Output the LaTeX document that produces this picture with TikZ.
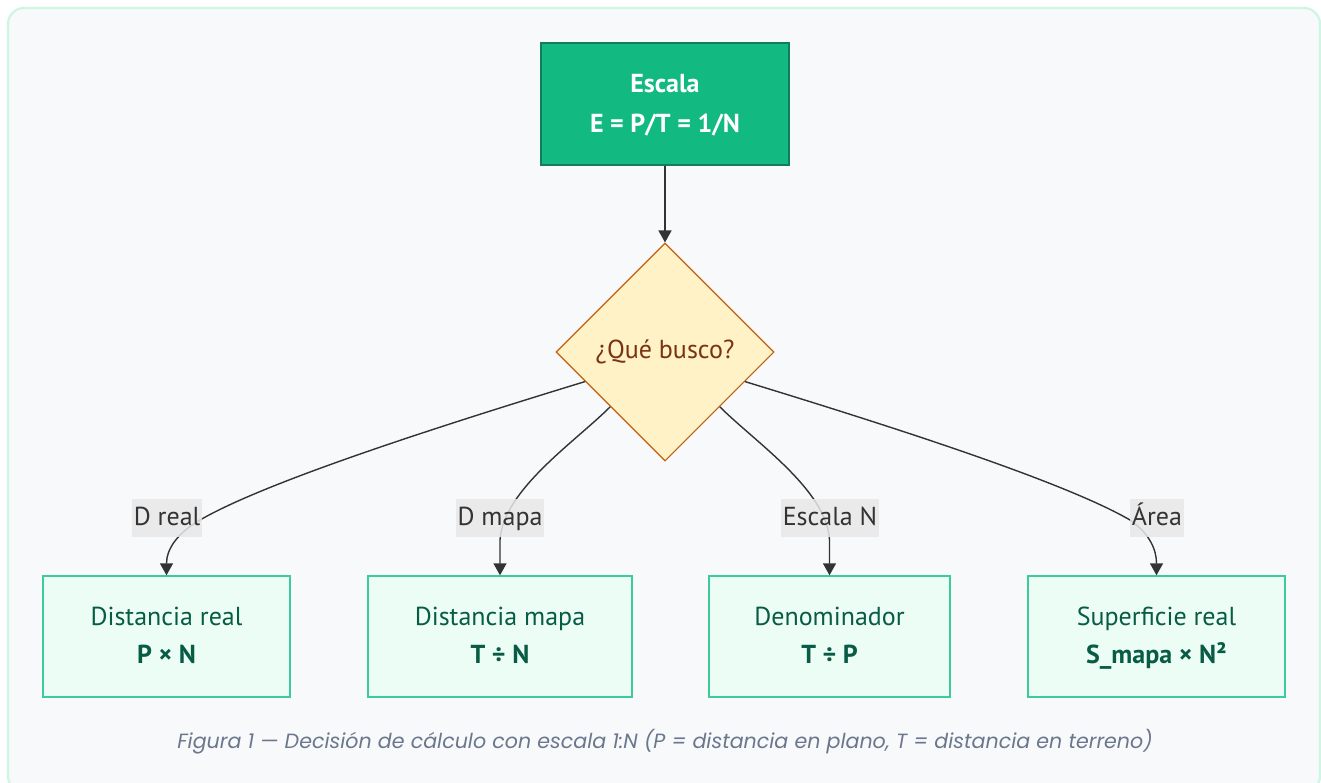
\documentclass[tikz,border=0pt]{standalone}
\usepackage{fontspec}
\setmainfont{PT Sans}
\newfontfamily\captionfont{Poppins}
\usetikzlibrary{shapes.geometric,arrows.meta,calc}

\definecolor{pagebg}{HTML}{F8F9FB}
\definecolor{framec}{HTML}{CDF7E2}
\definecolor{topfill}{HTML}{12B981}
\definecolor{topdraw}{HTML}{0E7E5C}
\definecolor{leaffill}{HTML}{ECFDF5}
\definecolor{leafdraw}{HTML}{3CCB9A}
\definecolor{leaftext}{HTML}{085C45}
\definecolor{qfill}{HTML}{FEF2C6}
\definecolor{qdraw}{HTML}{C0600E}
\definecolor{qtext}{HTML}{7A3312}
\definecolor{edgec}{HTML}{333333}
\definecolor{lblfill}{HTML}{E8E8E8}
\definecolor{capc}{HTML}{6B778C}

% fixed line strut so every box centres its two lines the same way
\newcommand{\ls}{\rule[-8pt]{0pt}{32pt}}

\tikzset{
  rootbox/.style={draw=topdraw, fill=topfill, line width=1.2pt, text=white,
    minimum width=248pt, minimum height=122pt, inner sep=0pt, align=center,
    font=\fontsize{26}{40}\selectfont\bfseries},
  leafbox/.style={draw=leafdraw, fill=leaffill, line width=1.4pt, text=leaftext,
    minimum height=121pt, inner sep=0pt, align=center,
    font=\fontsize{26}{38}\selectfont},
  askbox/.style={diamond, draw=qdraw, fill=qfill, line width=1.1pt, text=qtext,
    minimum width=218pt, minimum height=218pt, inner sep=0pt,
    font=\fontsize{26}{30}\selectfont},
  edgelbl/.style={fill=lblfill, fill opacity=0.85, text opacity=1, text=edgec,
    inner xsep=2pt, inner ysep=6pt, text height=20pt, text depth=6pt,
    font=\fontsize{26}{30}\selectfont},
  link/.style={draw=edgec, line width=1.4pt,
    -{Triangle[length=12pt,width=13pt]}},
}

\begin{document}
\begin{tikzpicture}[x=1pt,y=-1pt]
  \useasboundingbox (0,0) rectangle (1321,782);
  % page and frame
  \fill[white] (0,0) rectangle (1321,782);
  \draw[framec, line width=2.2pt, fill=pagebg, rounded corners=16pt]
    (8,8) rectangle (1320,792);

  % nodes
  \node[rootbox] (root) at (665,104) {Escala\ls\\E = P/T = 1/N\ls};
  \node[askbox] (ask) at (665,352) {¿Qué busco?};

  \node[leafbox, minimum width=247pt] (real) at (166.5,636.5)
    {Distancia real\ls\\\textbf{P × N}\ls};
  \node[leafbox, minimum width=264pt] (mapa) at (500,636.5)
    {Distancia mapa\ls\\\textbf{T ÷ N}\ls};
  \node[leafbox, minimum width=241pt] (deno) at (829.5,636.5)
    {Denominador\ls\\\textbf{T ÷ P}\ls};
  \node[leafbox, minimum width=257pt] (area) at (1156.5,636.5)
    {Superficie real\ls\\\textbf{S\_mapa × N²}\ls};

  % connectors
  \draw[link] (root.south) -- (ask.north);

  \coordinate (s1) at ($(ask.west)!0.27!(ask.south)$);
  \coordinate (s4) at ($(ask.east)!0.27!(ask.south)$);

  \draw[link] (s1) .. controls (420,432) and (262,484) .. (200,520)
    .. controls (176,534) and (166.5,550) .. (real.north);
  \draw[link] (ask.south west) .. controls (575,442) and (503,490) .. (500,540)
    -- (mapa.north);
  \draw[link] (ask.south east) .. controls (755,442) and (827,490) .. (829.5,540)
    -- (deno.north);
  \draw[link] (s4) .. controls (910,432) and (1068,484) .. (1130,520)
    .. controls (1150,534) and (1156.5,550) .. (area.north);

  % edge labels
  \node[edgelbl] (l1) at (167,518) {D real};
  \node[edgelbl] (l2) at (500,518) {D mapa};
  \node[edgelbl] (l3) at (830,518) {Escala N};
  \node[edgelbl] (l4) at (1157,518) {Área};

  % caption
  \node[text=capc, font=\captionfont\fontsize{20.6}{24}\selectfont\itshape]
    (cap) at (665,742)
    {Figura 1 — Decisión de cálculo con escala 1:N (P = distancia en plano, T = distancia en terreno)};
\end{tikzpicture}
\end{document}
